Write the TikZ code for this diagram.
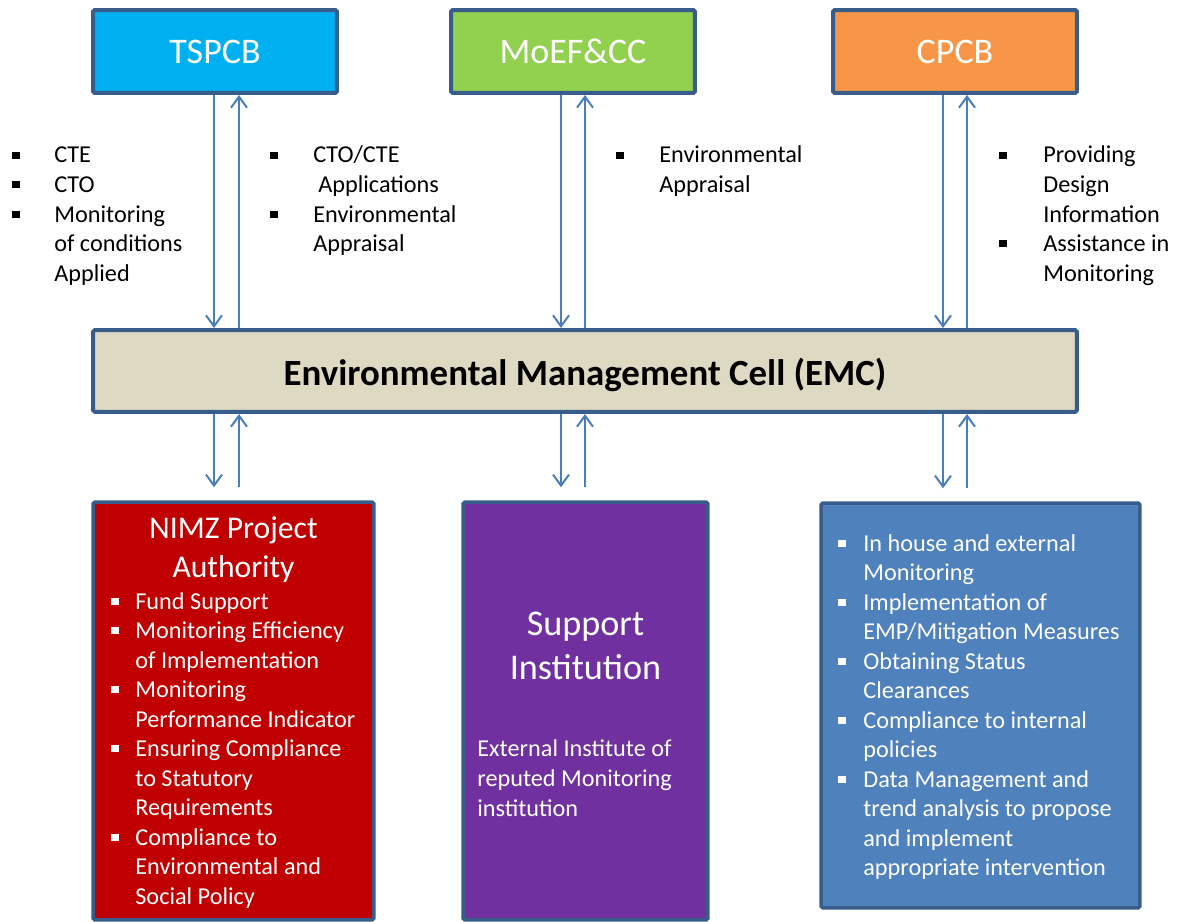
\documentclass[tikz,border=0pt]{standalone}
\usepackage{fontspec}
\setmainfont{Carlito}
\usetikzlibrary{arrows.meta}

\definecolor{edgeblue}{HTML}{385D8A}
\definecolor{linkblue}{HTML}{4A7EBB}
\definecolor{skyfill}{HTML}{00B0F0}
\definecolor{greenfill}{HTML}{92D050}
\definecolor{orangefill}{HTML}{F79646}
\definecolor{cellfill}{HTML}{DDD9C3}
\definecolor{redfill}{HTML}{C00000}
\definecolor{purplefill}{HTML}{7030A0}
\definecolor{bluefill}{HTML}{4F81BD}

% small square bullet and a two column bullet list
\newcommand{\sqb}{\rule[0.17em]{0.3em}{0.3em}}
\newcommand{\pts}[2]{\begin{tabular}[t]{@{}p{#1}@{}l@{}}#2\end{tabular}}

\begin{document}
\begin{tikzpicture}[x=0.02cm, y=-0.02cm,
    box/.style={draw=edgeblue, line width=0.08cm, rounded corners=1pt, inner sep=0pt},
    topbox/.style={box, minimum width=4.88cm, minimum height=1.66cm, text=white, font=\fontsize{20.5}{24}\selectfont},
    notes/.style={inner sep=0pt, anchor=base west, font=\fontsize{13.8}{16.8}\selectfont},
    link/.style={draw=linkblue, line width=0.04cm, -{Straight Barb[length=0.22cm,width=0.32cm]}}]
\useasboundingbox (0,0) rectangle (1179,922);

% regulators
\node[topbox, fill=skyfill] (tspcb) at (215,51.5) {TSPCB};
\node[topbox, fill=greenfill] (moef) at (573,51.5) {MoEF\&CC};
\node[topbox, fill=orangefill] (cpcb) at (955,51.5) {CPCB};

% the cell
\node[box, fill=cellfill, minimum width=19.68cm, minimum height=1.64cm, text height=0.6cm, text depth=0cm,
  font=\fontsize{21}{25}\selectfont\bfseries] (emc) at (585,371) {Environmental Management Cell (EMC)};

% lower boxes
\node[box, line width=0.07cm, fill=redfill, minimum width=5.62cm, minimum height=8.36cm] (nimz) at (233.5,711) {};
\node[box, line width=0.07cm, fill=purplefill, minimum width=4.9cm, minimum height=8.36cm] (support) at (585.5,711) {};
\node[box, line width=0.07cm, fill=bluefill, minimum width=6.38cm, minimum height=8.1cm] (actions) at (980.5,705.5) {};

% notes beside the arrows
\node[notes] (tspcbdown) at (12,163) {\pts{0.84cm}{\sqb & CTE\\ \sqb & CTO\\ \sqb & Monitoring\\ & of conditions\\ & Applied}};
\node[notes] (tspcbup) at (270,163) {\pts{0.86cm}{\sqb & CTO/CTE\\ & \hspace{0.1cm}Applications\\ \sqb & Environmental\\ & Appraisal}};
\node[notes] (moefup) at (616,163) {\pts{0.86cm}{\sqb & Environmental\\ & Appraisal}};
\node[notes] (cpcbup) at (999,163) {\pts{0.88cm}{\sqb & Providing\\ & Design\\ & Information\\ \sqb & Assistance in\\ & Monitoring}};

% text in the lower boxes (base sits on the last line)
\node[inner sep=0pt, anchor=base, align=center, text=white, font=\fontsize{18}{22.1}\selectfont] (nimztitle) at (233.5,577) {NIMZ Project\\Authority};
\node[notes, text=white] (nimzlist) at (111,609) {\pts{0.48cm}{\sqb & Fund Support\\ \sqb & Monitoring Efficiency\\ & of Implementation\\
  \sqb & Monitoring\\ & Performance Indicator\\ \sqb & Ensuring Compliance\\ & to Statutory\\ & Requirements\\
  \sqb & Compliance to\\ & Environmental and\\ & Social Policy}};
\node[inner sep=0pt, anchor=base, align=center, text=white, font=\fontsize{20.6}{25}\selectfont] (supporttitle) at (585.5,679) {Support\\Institution};
\node[notes, text=white, align=left] (supportnote) at (477,816) {External Institute of\\reputed Monitoring\\institution};
\node[notes, text=white] (actionlist) at (838,551) {\pts{0.5cm}{\sqb & In house and external\\ & Monitoring\\ \sqb & Implementation of\\ & EMP/Mitigation Measures\\
  \sqb & Obtaining Status\\ & Clearances\\ \sqb & Compliance to internal\\ & policies\\
  \sqb & Data Management and\\ & trend analysis to propose\\ & and implement\\ & appropriate intervention}};

% arrows to and from the cell
\foreach \up/\low/\dn/\rt in {tspcb/nimz/214/239, moef/support/561/585, cpcb/actions/943/967} {
  \coordinate (d) at (\dn,0);
  \coordinate (r) at (\rt,0);
  \draw[link] (\up.south -| d) -- (emc.north -| d);
  \draw[link] (emc.north -| r) -- (\up.south -| r);
  \draw[link, shorten >=0.26cm] (emc.south -| d) -- (\low.north -| d);
  \draw[link, shorten <=0.26cm] (\low.north -| r) -- (emc.south -| r);
}
\end{tikzpicture}
\end{document}
